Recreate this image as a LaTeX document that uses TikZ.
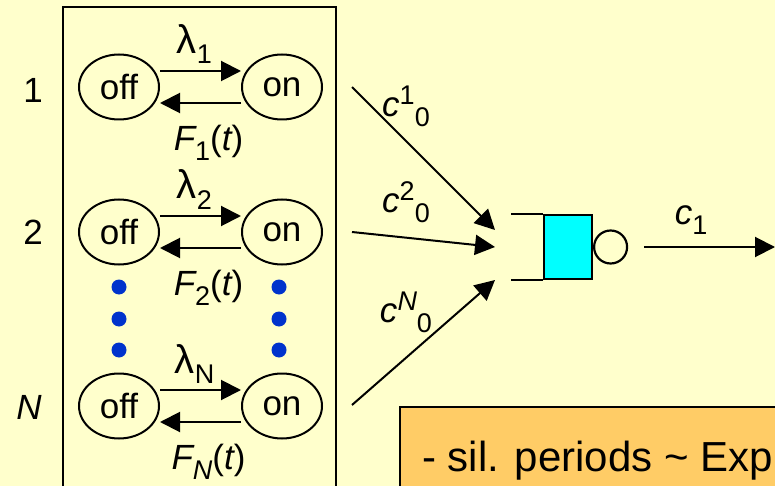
\documentclass[tikz,border=0pt]{standalone}
\usepackage{fontspec}
\setmainfont{Liberation Sans}
\usepackage{tikz}
\usetikzlibrary{arrows.meta, positioning, shapes.geometric, calc}

\definecolor{slidebg}{HTML}{FFFFCC}
\definecolor{queuecyan}{HTML}{00FFFF}
\definecolor{notebox}{HTML}{FFCC66}
\definecolor{dotblue}{HTML}{0033CC}

\newcommand{\lowsub}[1]{\raisebox{-10pt}{\fontsize{27}{27}\selectfont #1}}
\newcommand{\highsup}[1]{\raisebox{12pt}{\fontsize{27}{27}\selectfont #1}}

\begin{document}
\begin{tikzpicture}[
    x=1pt, y=-1pt,
    state/.style={
        ellipse,
        draw,
        line width=2pt,
        minimum width=80pt,
        minimum height=65pt,
        inner sep=0pt,
        font=\fontsize{35}{38}\selectfont
    },
    arrow/.style={
        -{Triangle[length=20pt, width=20pt]},
        line width=2pt
    },
    rate/.style={
        inner sep=1pt,
        font=\fontsize{35}{38}\selectfont
    },
    lam/.style={
        inner sep=0pt,
        font=\fontsize{40}{42}\selectfont
    }
]
% === Slide ===
\useasboundingbox (0,0) rectangle (775,486);
\clip (0,0) rectangle (775,486);
\fill[slidebg] (0,0) rectangle (775,486);

% === Sources ===
\draw[line width=2pt] (63,7) rectangle (336,520);

\node[rate] (row1) at (33,90) {1};
\node[rate] (row2) at (33,232) {2};
\node[rate] (rowN) at (29,407) {\itshape N};

\node[state] (off1) at (119,87) {off};
\node[state, right=81pt of off1] (on1) {on};
\node[state] (off2) at (119,232) {off};
\node[state, right=81pt of off2] (on2) {on};
\node[state] (offN) at (119,406) {off};
\node[state, right=81pt of offN] (onN) {on};

\draw[arrow] ([yshift=16pt]off1.east) -- node[lam, above=6pt, xshift=-6pt] {λ\lowsub{1}} ([yshift=16pt]on1.west);
\draw[arrow] ([yshift=-16pt]on1.west) -- node[rate, below=20pt, xshift=8pt] {{\itshape F}\lowsub{1}({\itshape t})} ([yshift=-16pt]off1.east);
\draw[arrow] ([yshift=16pt]off2.east) -- node[lam, above=6pt, xshift=-6pt] {λ\lowsub{2}} ([yshift=16pt]on2.west);
\draw[arrow] ([yshift=-16pt]on2.west) -- node[rate, below=20pt, xshift=8pt] {{\itshape F}\lowsub{2}({\itshape t})} ([yshift=-16pt]off2.east);
\draw[arrow] ([yshift=16pt]offN.east) -- node[lam, above=6pt, xshift=-6pt] {λ\lowsub{N}} ([yshift=16pt]onN.west);
\draw[arrow] ([yshift=-16pt]onN.west) -- node[rate, below=20pt, xshift=8pt] {{\itshape F}\lowsub{\itshape N}({\itshape t})} ([yshift=-16pt]offN.east);

\foreach \y in {287,319,350} {
    \fill[dotblue] (119,\y) circle (7.5pt);
    \fill[dotblue] (279,\y) circle (7.5pt);
}

% === Queue ===
\node[draw, fill=queuecyan, line width=2pt, minimum width=48pt, minimum height=64pt, inner sep=0pt] (buffer) at (568,247) {};
\node[circle, draw, line width=2.2pt, minimum size=33pt, inner sep=0pt, right=0pt of buffer] (server) {};
\draw[line width=2pt] (buffer.north west) -- ++(-32,0);
\draw[line width=2pt] (buffer.south west) -- ++(-32,0);

\coordinate (src1) at (352,87);
\coordinate (src2) at (352,232);
\coordinate (srcN) at (352,405);
\coordinate (in1) at (495,230);
\coordinate (in2) at (495,247);
\coordinate (inN) at (495,280);
\coordinate (sink) at (775,247);

\draw[arrow] (src1) -- (in1);
\draw[arrow] (src2) -- (in2);
\draw[arrow] (srcN) -- (inN);
\draw[arrow] ([xshift=16pt]server.east) -- (sink);

\node[rate] (peak1) at (406,106) {{\itshape c}\highsup{1}\lowsub{0}};
\node[rate] (peak2) at (406,202) {{\itshape c}\highsup{2}\lowsub{0}};
\node[rate] (peakN) at (406,312) {{\itshape c}\highsup{\itshape N}\lowsub{0}};
\node[rate] (link) at (691,220) {{\itshape c}\lowsub{1}};

% === Note ===
\draw[line width=2pt, fill=notebox] (400,407) rectangle (800,520);
\node[anchor=base west, inner sep=0pt, font=\fontsize{42}{44}\selectfont] (note) at (422,471) {- sil. periods \textasciitilde{} Exp};
\end{tikzpicture}
\end{document}
